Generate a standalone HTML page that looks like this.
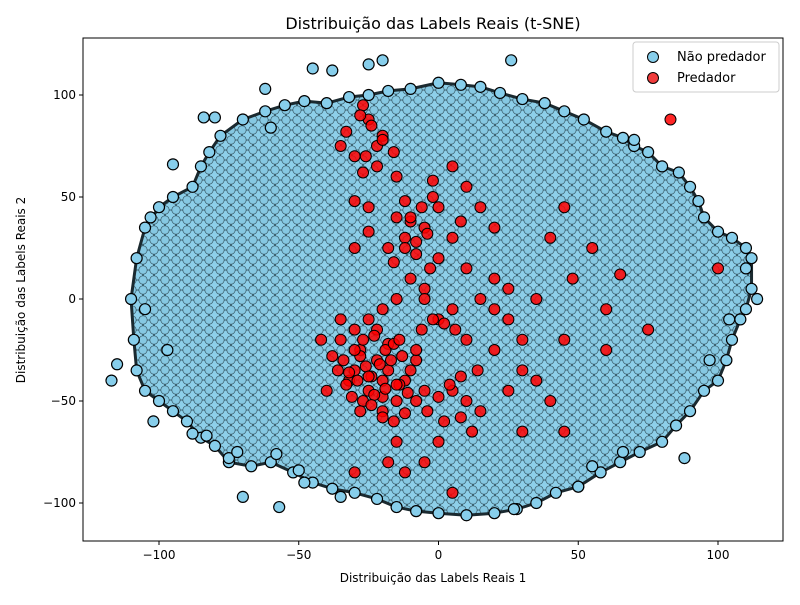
<!DOCTYPE html>
<html><head><meta charset="utf-8"><style>
body{margin:0;background:#fff;font-family:"Liberation Sans","DejaVu Sans",sans-serif}
svg text{font-family:"DejaVu Sans","Liberation Sans",sans-serif}
</style></head><body>
<svg id="c" width="800" height="600" viewBox="0 0 800 600" xmlns="http://www.w3.org/2000/svg">
<defs>
<pattern id="dots" width="11" height="10" patternUnits="userSpaceOnUse">
<rect width="11" height="10" fill="#4f8aa0"/>
<circle cx="5.5" cy="5" r="5" fill="#8dcfe9" stroke="#355562" stroke-width="0.7"/>
<circle cx="0" cy="0" r="4.2" fill="#86c8e2" stroke="#355562" stroke-width="0.7"/>
<circle cx="11" cy="0" r="4.2" fill="#86c8e2" stroke="#355562" stroke-width="0.7"/>
<circle cx="0" cy="10" r="4.2" fill="#86c8e2" stroke="#355562" stroke-width="0.7"/>
<circle cx="11" cy="10" r="4.2" fill="#86c8e2" stroke="#355562" stroke-width="0.7"/>
</pattern>
<clipPath id="clip"><rect x="83" y="38" width="700" height="503"/></clipPath>
</defs>
<rect x="0" y="0" width="800" height="600" fill="#fff"/>
<text x="433" y="29" text-anchor="middle" font-size="16">Distribuição das Labels Reais (t-SNE)</text>
<g id="plot" clip-path="url(#clip)"></g>
<rect x="83" y="38" width="700" height="503" fill="none" stroke="#000" stroke-width="1"/>
<g id="axes"></g>
<text x="433" y="582" text-anchor="middle" font-size="12">Distribuição das Labels Reais  1</text>
<text transform="translate(25,290) rotate(-90)" text-anchor="middle" font-size="12">Distribuição das Labels Reais  2</text>
<g>
<rect x="633" y="42" width="146" height="50" rx="3" fill="#fff" fill-opacity="0.85" stroke="#ccc"/>
<g>
<circle cx="653" cy="57" r="5.5" fill="#87ceeb" stroke="#000" stroke-width="1"/>
<text x="677" y="61" font-size="13">Não predador</text></g>
<g>
<circle cx="653" cy="78" r="5.5" fill="#f03c3c" stroke="#000" stroke-width="1"/>
<text x="677" y="82" font-size="13">Predador</text></g>
</g>
</svg>
<script>
const xTicks=[-100,-50,0,50,100];
const yTicks=[-100,-50,0,50,100];
const xTickLabels=["−100","−50","0","50","100"];
const yTickLabels=["−100","−50","0","50","100"];
const hullX=[-110,-108,-105,-100,-95,-88,-85,-82,-78,-70,-62,-55,-48,-40,-32,-25,-18,-10,0,8,15,22,30,38,45,52,60,66,70,75,80,86,90,93,95,100,105,110,112,112,110,108,105,103,100,95,90,85,80,72,65,58,50,42,35,28,20,10,0,-8,-15,-22,-30,-38,-45,-52,-60,-67,-75,-80,-85,-90,-95,-100,-105,-108,-109];
const hullY=[0,20,35,45,50,55,65,72,80,88,92,95,97,96,99,100,102,103,106,105,104,101,98,96,92,88,82,79,75,72,65,62,55,48,40,33,30,25,20,5,-5,-10,-20,-30,-40,-45,-55,-62,-70,-75,-80,-85,-92,-95,-100,-103,-105,-106,-105,-104,-102,-98,-95,-93,-90,-85,-80,-82,-80,-72,-68,-60,-55,-50,-45,-35,-20];
const blueX=[-117,-115,-102,-70,-57,26,-20,-25,-45,-38,-62,-80,-95,114,110,27,-105,-84,-75,-48,-35,88,70,-72,-60,-88,-97,-103,97,104,50,-50,55,66,-58,-83];
const blueY=[-40,-32,-60,-97,-102,117,117,115,113,112,103,89,66,0,15,-103,-5,89,-78,-90,-97,-78,78,-75,84,-66,-25,40,-30,-10,-92,-84,-82,-75,-76,-67];
const redX=[-27,-25,-20,-30,-27,-22,-33,-35,-30,-25,-15,-10,-5,-12,-18,-8,-3,-10,-5,-15,-20,-25,-30,-35,-28,-22,-30,-18,-12,-25,-15,-20,-32,-38,-8,-5,5,10,8,15,2,12,0,-5,-12,-18,5,-30,10,15,20,5,0,10,20,25,15,5,0,-5,25,30,20,30,35,25,40,30,45,48,45,55,40,-2,5,-30,-40,-42,83,100,65,60,60,45,75,-15,-8,-20,-35,-22,35,20,-15,-12,0,8,-25,-28,-24,-18,-26,-14,-20,-32,-34,-30,-27,-23,-19,-16,-13,-10,-36,-33,-29,-25,-21,-17,-31,-27,-23,-19,-15,-11,-28,-24,-20,-16,-12,-8,-4,-14,-6,-2,2,6,10,14,8,4,0,-10,-6,-2,-8,-4,-12,-16,-22,-26,-28,-24,-20,-16,-26,-22,-18];
const redY=[95,88,80,70,62,65,82,75,48,45,40,38,35,30,25,22,15,10,5,0,-5,-10,-15,-20,-25,-30,-35,-35,-40,-45,-50,-55,-40,-28,-30,-45,-45,-50,-58,-55,-60,-65,-70,-80,-85,-80,-95,-85,55,45,35,30,20,15,10,5,0,-5,-10,0,-10,-20,-25,-35,-40,-45,-50,-65,-65,10,45,25,30,58,65,25,-45,-20,88,15,12,-5,-25,-20,-15,-70,-25,-40,-10,-15,0,-5,60,48,45,38,33,-28,-38,-22,-33,-42,-48,-36,-30,-25,-20,-18,-25,-22,-28,-35,-35,-42,-40,-38,-32,-30,-48,-50,-47,-44,-42,-46,-55,-52,-58,-60,-56,-50,-55,-20,-15,-10,-12,-15,-20,-35,-38,-42,-48,40,45,50,28,32,25,18,75,70,90,85,78,72];
const X=v=>438.5+v*2.795, Y=v=>299-v*2.04;
const NS="http://www.w3.org/2000/svg";
const plot=document.getElementById('plot'), axes=document.getElementById('axes');
const hull=document.createElementNS(NS,'polygon');
hull.setAttribute('points',hullX.map((x,i)=>X(x)+','+Y(hullY[i])).join(' '));
hull.setAttribute('fill','url(#dots)');hull.setAttribute('stroke','#1b2a30');hull.setAttribute('stroke-width','3');hull.setAttribute('stroke-linejoin','round');


plot.appendChild(hull);
hullX.forEach((x,i)=>{const c=document.createElementNS(NS,'circle');
c.setAttribute('cx',X(x));c.setAttribute('cy',Y(hullY[i]));c.setAttribute('r',5.5);
c.setAttribute('fill','#87ceeb');c.setAttribute('stroke','#000');c.setAttribute('stroke-width','1.2');


plot.appendChild(c);});
blueX.forEach((x,i)=>{const c=document.createElementNS(NS,'circle');
c.setAttribute('cx',X(x));c.setAttribute('cy',Y(blueY[i]));c.setAttribute('r',5.5);
c.setAttribute('fill','#87ceeb');c.setAttribute('stroke','#000');c.setAttribute('stroke-width','1.2');


plot.appendChild(c);});
redX.forEach((x,i)=>{const c=document.createElementNS(NS,'circle');
c.setAttribute('cx',X(x));c.setAttribute('cy',Y(redY[i]));c.setAttribute('r',5.5);
c.setAttribute('fill','#ff0000');c.setAttribute('fill-opacity','0.85');c.setAttribute('stroke','#000');c.setAttribute('stroke-width','1');


plot.appendChild(c);});
xTicks.forEach((t,i)=>{const l=document.createElementNS(NS,'line');
l.setAttribute('x1',X(t));l.setAttribute('x2',X(t));l.setAttribute('y1',541);l.setAttribute('y2',545);l.setAttribute('stroke','#000');


axes.appendChild(l);
const tx=document.createElementNS(NS,'text');tx.setAttribute('x',X(t));tx.setAttribute('y',559);tx.setAttribute('text-anchor','middle');tx.setAttribute('font-size','12');tx.textContent=xTickLabels[i];


axes.appendChild(tx);});
yTicks.forEach((t,i)=>{const l=document.createElementNS(NS,'line');
l.setAttribute('x1',79);l.setAttribute('x2',83);l.setAttribute('y1',Y(t));l.setAttribute('y2',Y(t));l.setAttribute('stroke','#000');


axes.appendChild(l);
const tx=document.createElementNS(NS,'text');tx.setAttribute('x',76);tx.setAttribute('y',Y(t)+4);tx.setAttribute('text-anchor','end');tx.setAttribute('font-size','12');tx.textContent=yTickLabels[i];


axes.appendChild(tx);});
</script>
</body></html>
